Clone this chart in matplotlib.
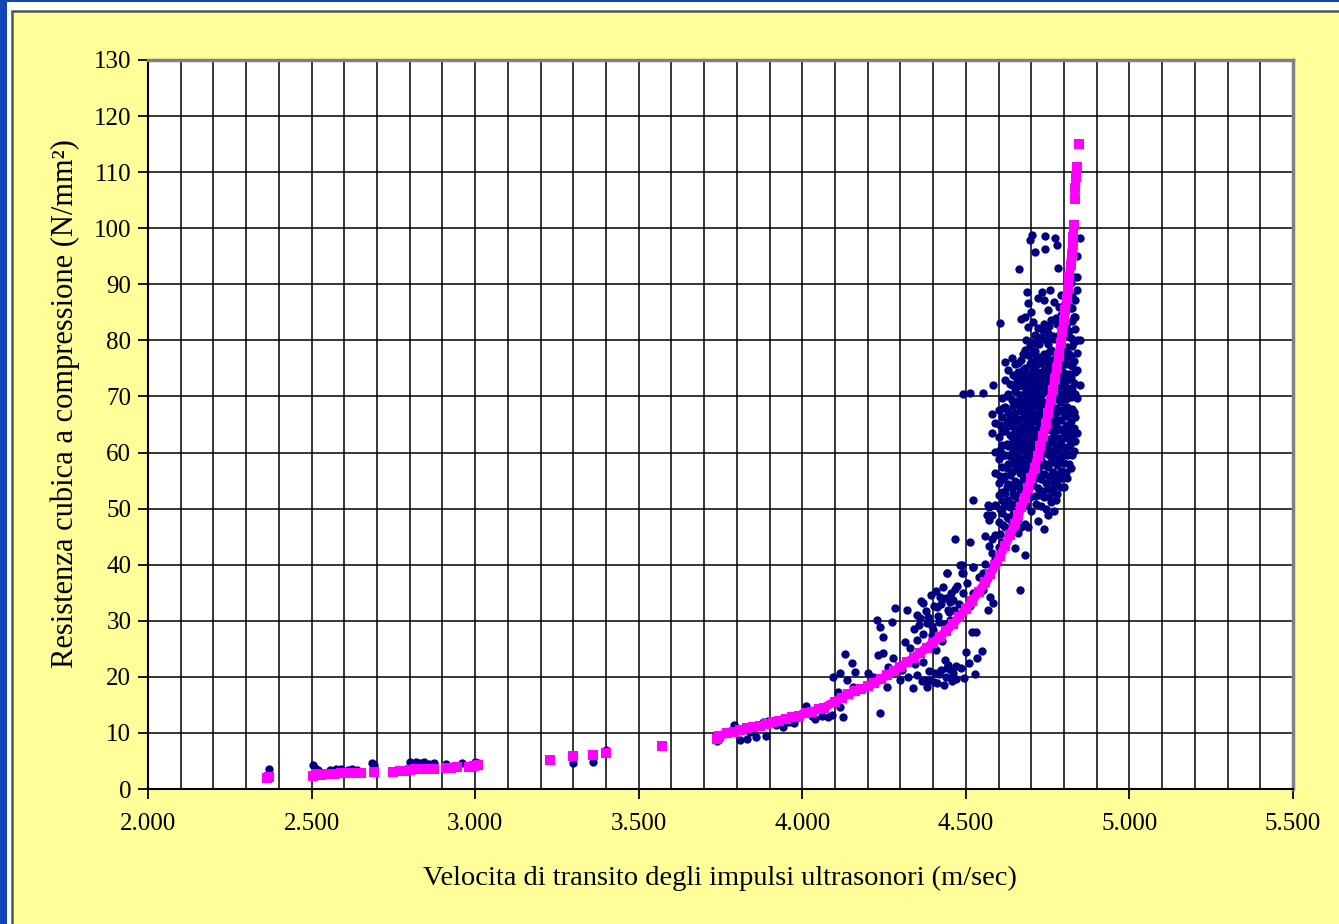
import matplotlib
matplotlib.use("Agg")
import matplotlib.pyplot as plt
from matplotlib.patches import Rectangle
from matplotlib.ticker import MultipleLocator, FuncFormatter

# ---------------- data ----------------
# low-velocity measured points
low_vel = [2370, 2505, 2510, 2520, 2555, 2575, 2590, 2610, 2625, 2640, 2685, 2690,
           2800, 2810, 2820, 2830, 2845, 2860, 2875, 2910, 2960, 3000, 3010, 3300, 3360, 3400]
low_res = [3.6, 4.3, 3.8, 3.4, 3.3, 3.5, 3.6, 3.4, 3.6, 3.3, 4.6, 4.2,
           4.8, 4.5, 4.9, 4.6, 4.8, 4.4, 4.6, 4.5, 4.6, 4.9, 4.6, 4.6, 4.8, 6.9]

# 3700-4600 measured points
mid_vel = [3740, 3745, 3790, 3800, 3810, 3830, 3840, 3860, 3870, 3880, 3890, 3895, 3910,
           3920, 3940, 3950, 3960, 3975, 3990, 4000, 4010, 4030, 4040, 4050, 4060, 4080,
           4091, 4094, 4110, 4115, 4115, 4125, 4130, 4137, 4152, 4155, 4161, 4201, 4217,
           4228, 4231, 4237, 4237, 4247, 4247, 4259, 4262, 4274, 4277, 4283, 4300, 4305,
           4314, 4320, 4323, 4329, 4338, 4345, 4351, 4360, 4365, 4369, 4375, 4381, 4381,
           4384, 4390, 4395, 4400, 4405, 4412, 4412, 4418, 4421, 4425, 4430, 4436, 4442,
           4442, 4445, 4450, 4452, 4458, 4461, 4461, 4467, 4470, 4475, 4482, 4488, 4491,
           4495, 4504, 4510, 4513, 4519, 4522, 4522, 4528, 4534, 4540, 4548, 4552, 4565,
           4568, 4574, 4583, 4595]
mid_res = [8.5, 9.0, 11.5, 10.8, 8.7, 9.0, 10.2, 9.2, 11.2, 12.0, 9.5, 12.2, 11.8,
           11.5, 11.0, 12.5, 12.0, 11.8, 12.8, 13.5, 14.8, 13.0, 12.5, 14.5, 13.0, 12.8,
           13.2, 20.0, 17.3, 20.7, 14.6, 12.8, 24.1, 19.4, 22.5, 18.2, 20.9, 20.7, 20.0,
           30.1, 23.9, 28.9, 13.5, 27.1, 24.3, 18.2, 21.8, 29.8, 23.4, 32.3, 19.5, 21.2,
           26.2, 31.9, 20.0, 25.1, 18.0, 22.3, 26.6, 30.5, 19.2, 33.2, 19.4, 29.6, 18.2,
           30.7, 19.4, 27.4, 28.4, 20.6, 32.5, 18.9, 29.8, 34.2, 21.3, 36.0, 23.0, 38.5,
           21.6, 31.9, 33.4, 30.1, 19.3, 33.7, 20.7, 35.6, 21.9, 31.2, 39.9, 38.5, 34.9,
           19.8, 36.7, 22.4, 32.6, 28.0, 34.9, 39.6, 20.5, 23.4, 37.8, 24.6, 35.4, 37.3,
           31.9, 34.2, 33.2, 40.3]

# extra points of the 4300-4500 clump
clump_vel = [4340, 4350, 4356, 4362, 4370, 4378, 4386, 4392, 4398, 4404, 4410, 4416,
             4424, 4432, 4440, 4448, 4456, 4464, 4472, 4480, 4388, 4402, 4418, 4432,
             4446, 4470, 4486, 4500, 4352, 4368, 4376, 4394, 4408, 4426, 4438, 4454]
clump_res = [28.5, 31.0, 29.2, 33.5, 27.6, 31.8, 30.2, 34.6, 29.0, 32.7, 35.3, 30.9,
             33.0, 29.5, 34.0, 31.5, 35.0, 32.0, 36.2, 33.0, 21.0, 19.0, 20.5, 18.6,
             22.2, 19.7, 21.5, 24.5, 20.4, 22.6, 25.0, 26.0, 24.8, 26.4, 20.0, 21.2]

# scattered high points around the dense cluster
edge_vel = [4513, 4552, 4583, 4604, 4662, 4522, 4568, 4565, 4467, 4513, 4488, 4522,
            4442, 4491, 4552, 4696, 4702, 4742, 4773, 4779, 4711, 4742, 4849, 4782,
            4687, 4733, 4757, 4840, 4681, 4825, 4834, 4490, 4530, 4665]
edge_res = [70.6, 70.6, 72.0, 83.1, 92.7, 51.5, 50.6, 48.9, 44.6, 44.0, 39.9, 39.6,
            38.5, 38.5, 38.5, 97.9, 98.8, 98.6, 98.3, 97.0, 95.8, 96.3, 98.3, 92.9,
            88.6, 88.6, 89.0, 91.3, 84.2, 85.8, 84.2, 70.5, 28.0, 35.5]

# dense cluster, one velocity column with its strengths
dense_vel = [4560, 4570, 4580, 4590, 4600, 4610, 4620, 4630, 4640, 4650, 4660, 4670,
             4680, 4690, 4700, 4710, 4720, 4730, 4740, 4750, 4760, 4770, 4780, 4790,
             4800, 4810, 4820, 4830, 4840, 4849]
dense_res = [
    [36.5, 40.2, 45.1],
    [38.0, 43.3, 47.9, 50.2],
    [39.5, 42.1, 44.6, 48.8, 63.5, 66.8],
    [41.0, 45.3, 50.7, 56.3, 60.1, 65.2],
    [43.2, 47.6, 52.4, 54.6, 58.8, 62.7, 67.6],
    [44.1, 49.2, 53.0, 57.5, 61.4, 66.3, 69.8],
    [46.7, 50.5, 52.8, 55.9, 59.6, 63.8, 68.1, 72.9, 76.2],
    [45.2, 48.3, 51.6, 54.4, 58.0, 61.2, 64.7, 67.3, 70.5, 74.7],
    [47.6, 50.8, 53.7, 56.6, 59.9, 62.8, 65.9, 69.4, 72.1, 76.9],
    [43.0, 49.4, 52.2, 55.0, 57.8, 60.7, 64.0, 67.0, 70.9, 73.6, 75.8],
    [45.6, 48.1, 51.0, 54.2, 57.1, 60.0, 62.9, 65.6, 68.7, 71.8, 74.4, 76.0],
    [46.7, 50.1, 53.3, 56.4, 58.9, 61.7, 64.6, 67.9, 70.2, 73.1, 76.5, 83.8],
    [41.7, 47.2, 52.5, 55.6, 58.2, 61.0, 63.9, 66.8, 69.7, 72.6, 75.1, 78.3],
    [46.7, 54.8, 57.5, 60.4, 63.2, 66.0, 68.9, 71.5, 74.0, 77.4, 82.4, 86.7],
    [49.5, 56.9, 59.7, 62.4, 65.2, 68.0, 70.8, 73.5, 76.2, 79.8, 85.1],
    [52.3, 58.4, 61.3, 64.1, 66.9, 69.6, 72.4, 75.5, 78.1, 80.9],
    [47.8, 53.6, 57.0, 60.7, 63.5, 66.2, 68.8, 71.6, 74.3, 77.0, 82.2, 87.5],
    [50.4, 55.3, 58.6, 62.1, 64.9, 67.8, 70.3, 73.2, 75.9, 80.6],
    [46.3, 52.1, 56.2, 59.9, 63.6, 66.5, 69.1, 72.0, 74.8, 77.5, 83.0, 87.2],
    [48.9, 53.5, 57.4, 60.8, 64.2, 67.7, 70.6, 73.9, 76.6, 79.3, 81.3, 85.4],
    [51.2, 55.0, 58.3, 61.9, 65.3, 68.4, 71.7, 74.5, 78.2, 83.6],
    [49.6, 53.8, 56.0, 59.2, 62.7, 66.1, 69.5, 72.8, 75.6, 80.2, 86.9],
    [52.6, 54.9, 57.8, 60.6, 64.0, 67.2, 70.1, 73.4, 77.8, 82.9],
    [53.9, 56.7, 59.5, 62.2, 65.8, 69.0, 71.9, 75.0, 79.1, 84.5, 88.1],
    [53.9, 58.1, 61.0, 63.7, 67.0, 70.4, 74.1, 76.8, 80.7, 86.3],
    [55.5, 59.6, 62.6, 64.9, 68.2, 71.5, 75.7, 78.9, 83.1, 88.8],
    [57.2, 61.7, 65.6, 69.9, 73.3, 77.0, 80.4, 85.8, 90.2],
    [60.3, 64.4, 67.2, 72.4, 76.3, 79.7, 84.2, 91.3],
    [63.4, 69.8, 74.7, 77.7, 80.1, 89.0, 95.0],
    [72.0, 80.0],
]

# second, interleaved set of columns in the dense cluster
dense2_vel = [4605, 4615, 4625, 4635, 4645, 4655, 4665, 4675, 4685, 4695, 4705, 4715,
              4725, 4735, 4745, 4755, 4765, 4775, 4785, 4795, 4805, 4815, 4825, 4835]
dense2_res = [
    [45.5, 50.0, 55.8, 60.4, 64.9],
    [47.0, 51.3, 55.2, 59.6, 63.9, 68.0],
    [48.5, 53.9, 57.3, 61.5, 65.4, 70.1],
    [50.2, 56.0, 59.4, 63.1, 66.2, 72.3],
    [49.1, 52.6, 58.3, 61.7, 64.8, 68.3, 73.9],
    [46.2, 51.0, 54.1, 59.0, 62.2, 66.0, 69.2, 72.5],
    [49.9, 53.0, 56.3, 58.5, 61.4, 64.2, 67.4, 70.2, 73.4],
    [51.5, 55.1, 57.8, 60.6, 63.1, 66.1, 69.1, 71.9, 74.8, 77.6],
    [50.6, 54.0, 56.9, 59.6, 62.3, 65.3, 68.2, 71.0, 73.8, 80.0],
    [52.0, 56.1, 58.9, 61.8, 64.6, 67.3, 70.1, 72.9, 75.7, 79.0],
    [54.3, 58.0, 61.0, 63.8, 66.4, 69.2, 72.0, 74.8, 77.7, 83.2],
    [50.8, 55.4, 60.1, 62.8, 65.6, 68.3, 71.0, 73.9, 76.8, 79.5],
    [52.4, 56.3, 59.0, 62.0, 64.7, 67.0, 69.9, 72.8, 76.0, 79.4],
    [53.1, 57.7, 60.8, 63.4, 66.0, 68.9, 71.5, 74.4, 77.3, 81.8],
    [50.0, 54.6, 58.0, 61.5, 65.3, 68.1, 70.9, 73.3, 76.2, 80.0],
    [52.0, 55.9, 59.6, 62.4, 65.8, 69.1, 72.2, 75.2, 78.0, 82.6],
    [53.0, 56.6, 60.2, 63.6, 67.2, 70.2, 73.0, 76.5, 80.8],
    [51.5, 55.4, 58.4, 61.4, 64.7, 68.0, 71.0, 74.2, 77.1, 84.0],
    [55.8, 59.0, 62.6, 65.8, 69.3, 72.5, 76.0, 81.0, 86.0],
    [55.5, 58.4, 61.0, 64.2, 67.6, 70.5, 73.6, 77.2, 80.6],
    [56.5, 60.1, 63.3, 66.5, 69.6, 72.8, 78.0, 82.4, 87.0],
    [58.0, 61.1, 64.0, 67.0, 70.3, 74.0, 77.5, 81.7, 86.2],
    [59.6, 63.2, 67.8, 71.5, 75.5, 79.0, 83.5, 88.0],
    [62.0, 66.3, 70.5, 74.4, 82.0, 87.2],
]

# fitted curve (magenta squares)
fit_low_vel = [2365, 2370, 2505, 2515, 2530, 2550, 2570, 2590, 2610, 2630, 2650, 2690,
               2750, 2770, 2785, 2800, 2815, 2830, 2845, 2860, 2875, 2910, 2925, 2945,
               2980, 2995, 3010, 3230, 3300, 3360, 3400, 3570]
fit_low_res = [1.9, 2.2, 2.4, 2.6, 2.5, 2.6, 2.7, 2.8, 2.8, 2.9, 2.9, 3.1,
               3.1, 3.2, 3.2, 3.4, 3.5, 3.5, 3.6, 3.6, 3.6, 3.7, 3.8, 3.9,
               4.0, 4.1, 4.2, 5.2, 5.8, 6.1, 6.5, 7.6]
fit_vel = [3740, 3745, 3770, 3790, 3810, 3830, 3850, 3870, 3890, 3910, 3930, 3950,
           3970, 3990, 4010, 4030, 4050, 4065, 4100, 4120, 4140, 4160, 4180, 4200,
           4220, 4240, 4260, 4280, 4300, 4320, 4340, 4360, 4380, 4400, 4420, 4440,
           4460, 4480, 4500, 4520, 4540, 4560, 4575, 4590, 4605, 4620, 4635, 4650,
           4660, 4670, 4680, 4690, 4700, 4710, 4720, 4728, 4736, 4744, 4752, 4760,
           4766, 4772, 4778, 4784, 4790, 4795, 4800, 4804, 4808, 4812, 4816, 4820,
           4823, 4826, 4828, 4830]
fit_res = [9.0, 9.5, 9.9, 10.2, 10.5, 10.8, 11.0, 11.3, 11.6, 11.9, 12.2, 12.5,
           12.8, 13.1, 13.5, 13.8, 14.2, 14.5, 15.6, 16.3, 16.9, 17.4, 17.8, 18.3,
           18.9, 19.6, 20.3, 21.0, 21.8, 22.6, 23.4, 24.3, 25.2, 26.1, 27.1, 28.2,
           29.4, 30.7, 32.1, 33.6, 35.2, 36.9, 38.3, 39.9, 41.6, 43.4, 45.3, 47.3,
           48.8, 50.3, 51.9, 53.6, 55.4, 57.3, 59.4, 61.1, 63.0, 65.0, 67.1, 69.4,
           71.2, 73.1, 75.1, 77.2, 79.5, 81.5, 83.6, 85.4, 87.3, 89.2, 91.3, 93.5,
           95.2, 97.0, 98.5, 100.5]
fit_top1_vel = [4833, 4835, 4837, 4839]
fit_top1_res = [105.3, 107.2, 109.1, 111.0]
fit_top2_vel = [4846]
fit_top2_res = [115.0]

x_label = "Velocita di transito degli impulsi ultrasonori (m/sec)"
y_label = "Resistenza cubica a compressione (N/mm²)"

# ---------------- figure ----------------
W, H = 1339, 924
plt.rcParams["font.family"] = ["Liberation Serif", "DejaVu Serif"]
fig = plt.figure(figsize=(W / 100, H / 100), dpi=100, facecolor="#1144B8")

bg1 = Rectangle((7 / W, 0), 1, 1 - 2 / H, transform=fig.transFigure,
                facecolor="white", edgecolor="none", zorder=-3)
bg2 = Rectangle((11.5 / W, -0.01), 1.1, 1 - 10.5 / H + 0.01,
                transform=fig.transFigure, facecolor="#FFFF99",
                edgecolor="#555555", linewidth=1.8, zorder=-2)
fig.patches.extend([bg1, bg2])

ax = fig.add_axes([148 / W, (H - 789) / H, 1145 / W, 729 / H])
ax.set_zorder(1)
ax.set_facecolor("white")
ax.set_xlim(2000, 5500)
ax.set_ylim(0, 130)

ax.xaxis.set_major_locator(MultipleLocator(500))
ax.xaxis.set_minor_locator(MultipleLocator(100))
ax.yaxis.set_major_locator(MultipleLocator(10))
ax.xaxis.set_major_formatter(FuncFormatter(lambda v, p: f"{int(v):,}".replace(",", ".")))
ax.grid(True, which="both", color="black", linewidth=1.1)
ax.set_axisbelow(True)
ax.tick_params(axis="both", which="major", direction="out", length=7, width=1.3,
               labelsize=18, colors="black", pad=5)
ax.tick_params(axis="x", which="minor", length=0)
ax.tick_params(axis="x", which="major", pad=10)

for s in ["top", "right"]:
    ax.spines[s].set_color("#808080")
    ax.spines[s].set_linewidth(2.5)
for s in ["left", "bottom"]:
    ax.spines[s].set_color("black")
    ax.spines[s].set_linewidth(1.5)

# measured points
navy = "#000080"
ms_pt = 6.0
for vx, vy in [(low_vel, low_res), (mid_vel, mid_res), (clump_vel, clump_res),
               (edge_vel, edge_res)]:
    ax.plot(vx, vy, "o", color=navy, markersize=ms_pt, markeredgewidth=0, zorder=3)
for vels, cols in [(dense_vel, dense_res), (dense2_vel, dense2_res)]:
    for v, col in zip(vels, cols):
        ax.plot([v] * len(col), col, "o", color=navy, markersize=ms_pt,
                markeredgewidth=0, zorder=3)

# fitted curve
mag = "#FF00FF"
ms_sq = 7.0
lw_fit = 6.5
ax.plot(fit_low_vel, fit_low_res, "s", color=mag, markersize=ms_sq, markeredgewidth=0, zorder=4)
ax.plot(fit_vel, fit_res, "-s", color=mag, linewidth=lw_fit, markersize=ms_sq,
        markeredgewidth=0, solid_capstyle="butt", zorder=4)
ax.plot(fit_top1_vel, fit_top1_res, "-s", color=mag, linewidth=lw_fit, markersize=ms_sq,
        markeredgewidth=0, zorder=4)
ax.plot(fit_top2_vel, fit_top2_res, "s", color=mag, markersize=ms_sq, markeredgewidth=0, zorder=4)

fig.text(720 / W, 1 - 878 / H, x_label, ha="center", va="center", fontsize=20.5)
fig.text(65 / W, 1 - 404 / H, y_label, ha="center", va="center", rotation=90, fontsize=22)

fig.savefig("out.png", dpi=100, facecolor=fig.get_facecolor())
